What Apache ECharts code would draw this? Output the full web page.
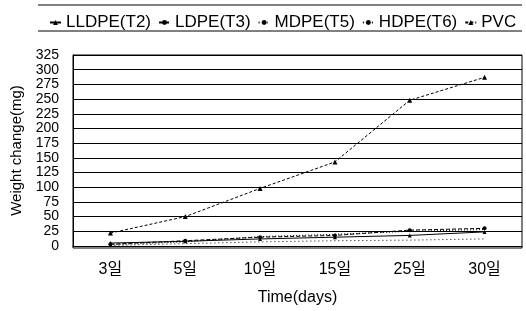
<!DOCTYPE html>
<html>
<head>
<meta charset="utf-8">
<script src="https://cdn.jsdelivr.net/npm/echarts@6/dist/echarts.min.js"></script>
<style>
  html, body { margin: 0; padding: 0; background: #fff; }
  #chart { width: 526px; height: 311px; }
</style>
</head>
<body>
<div id="chart"></div>
<script>
// 기간 (x축)
var days = ['3일', '5일', '10일', '15일', '25일', '30일'];

// 무게 변화 (mg)
var lldpeT2 = [5, 8, 12, 15, 18, 24];
var ldpeT3 = [3, 9, 15, 18, 27, 30];
var mdpeT5 = [1, 4, 7, 9, 10, 12];
var hdpeT6 = [2, 7, 16, 20, 25, 28];
var pvc = [22, 50, 98, 143, 248, 287];

var yTicks = [0, 325, 25];

var font = '"Liberation Sans", "Noto Sans CJK KR", sans-serif';

var myChart = echarts.init(document.getElementById('chart'));

function line(name, data, type, symbol, size) {
    return {
        name: name,
        type: 'line',
        data: data,
        symbol: symbol,
        symbolSize: size,
        itemStyle: { color: '#000' },
        lineStyle: { color: '#000', width: 1, type: type },
        animation: false
    };
}

var option = {
    backgroundColor: '#fff',
    textStyle: { fontFamily: font, color: '#000' },
    legend: {
        top: 9,
        left: 44,
        itemWidth: 11,
        itemHeight: 6,
        itemGap: 7,
        textStyle: { fontFamily: font, fontSize: 17, color: '#000' },
        data: ['LLDPE(T2)', 'LDPE(T3)', 'MDPE(T5)', 'HDPE(T6)', 'PVC']
    },
    graphic: [
        { type: 'line', shape: { x1: 38, y1: 5, x2: 522, y2: 5 }, style: { stroke: '#000', lineWidth: 1 } },
        { type: 'line', shape: { x1: 38, y1: 31, x2: 522, y2: 31 }, style: { stroke: '#000', lineWidth: 1 } },
        { type: 'rect', shape: { x: 73, y: 55, width: 449, height: 193 }, style: { fill: 'none', stroke: '#000', lineWidth: 1 }, silent: true }
    ],
    grid: { left: 73, right: 4, top: 55, bottom: 63 },
    xAxis: {
        type: 'category',
        data: days,
        boundaryGap: true,
        axisLine: { lineStyle: { color: '#000' } },
        axisTick: { show: false },
        axisLabel: { fontFamily: font, fontSize: 16, color: '#000', margin: 16 },
        name: 'Time(days)',
        nameLocation: 'middle',
        nameGap: 44,
        nameTextStyle: { fontFamily: font, fontSize: 16, color: '#000' }
    },
    yAxis: {
        type: 'value',
        min: yTicks[0],
        max: yTicks[1],
        interval: yTicks[2],
        axisLine: { show: true, lineStyle: { color: '#000' } },
        axisTick: { show: false },
        splitLine: { lineStyle: { color: '#000', width: 1 } },
        axisLabel: {
            fontFamily: font, fontSize: 14, color: '#000', margin: 14, lineHeight: 14,
            showMinLabel: true, showMaxLabel: true, hideOverlap: false
        },
        name: 'Weight change(mg)',
        nameLocation: 'middle',
        nameGap: 49,
        nameTextStyle: { fontFamily: font, fontSize: 15, color: '#000' }
    },
    series: [
        line('LLDPE(T2)', lldpeT2, 'solid', 'triangle', 4),
        line('LDPE(T3)', ldpeT3, [4, 2], 'circle', 4),
        line('MDPE(T5)', mdpeT5, [1, 3], 'none', 2),
        line('HDPE(T6)', hdpeT6, [1, 2], 'none', 2),
        line('PVC', pvc, [3, 2], 'triangle', 5)
    ]
};

myChart.setOption(option);
</script>
</body>
</html>
